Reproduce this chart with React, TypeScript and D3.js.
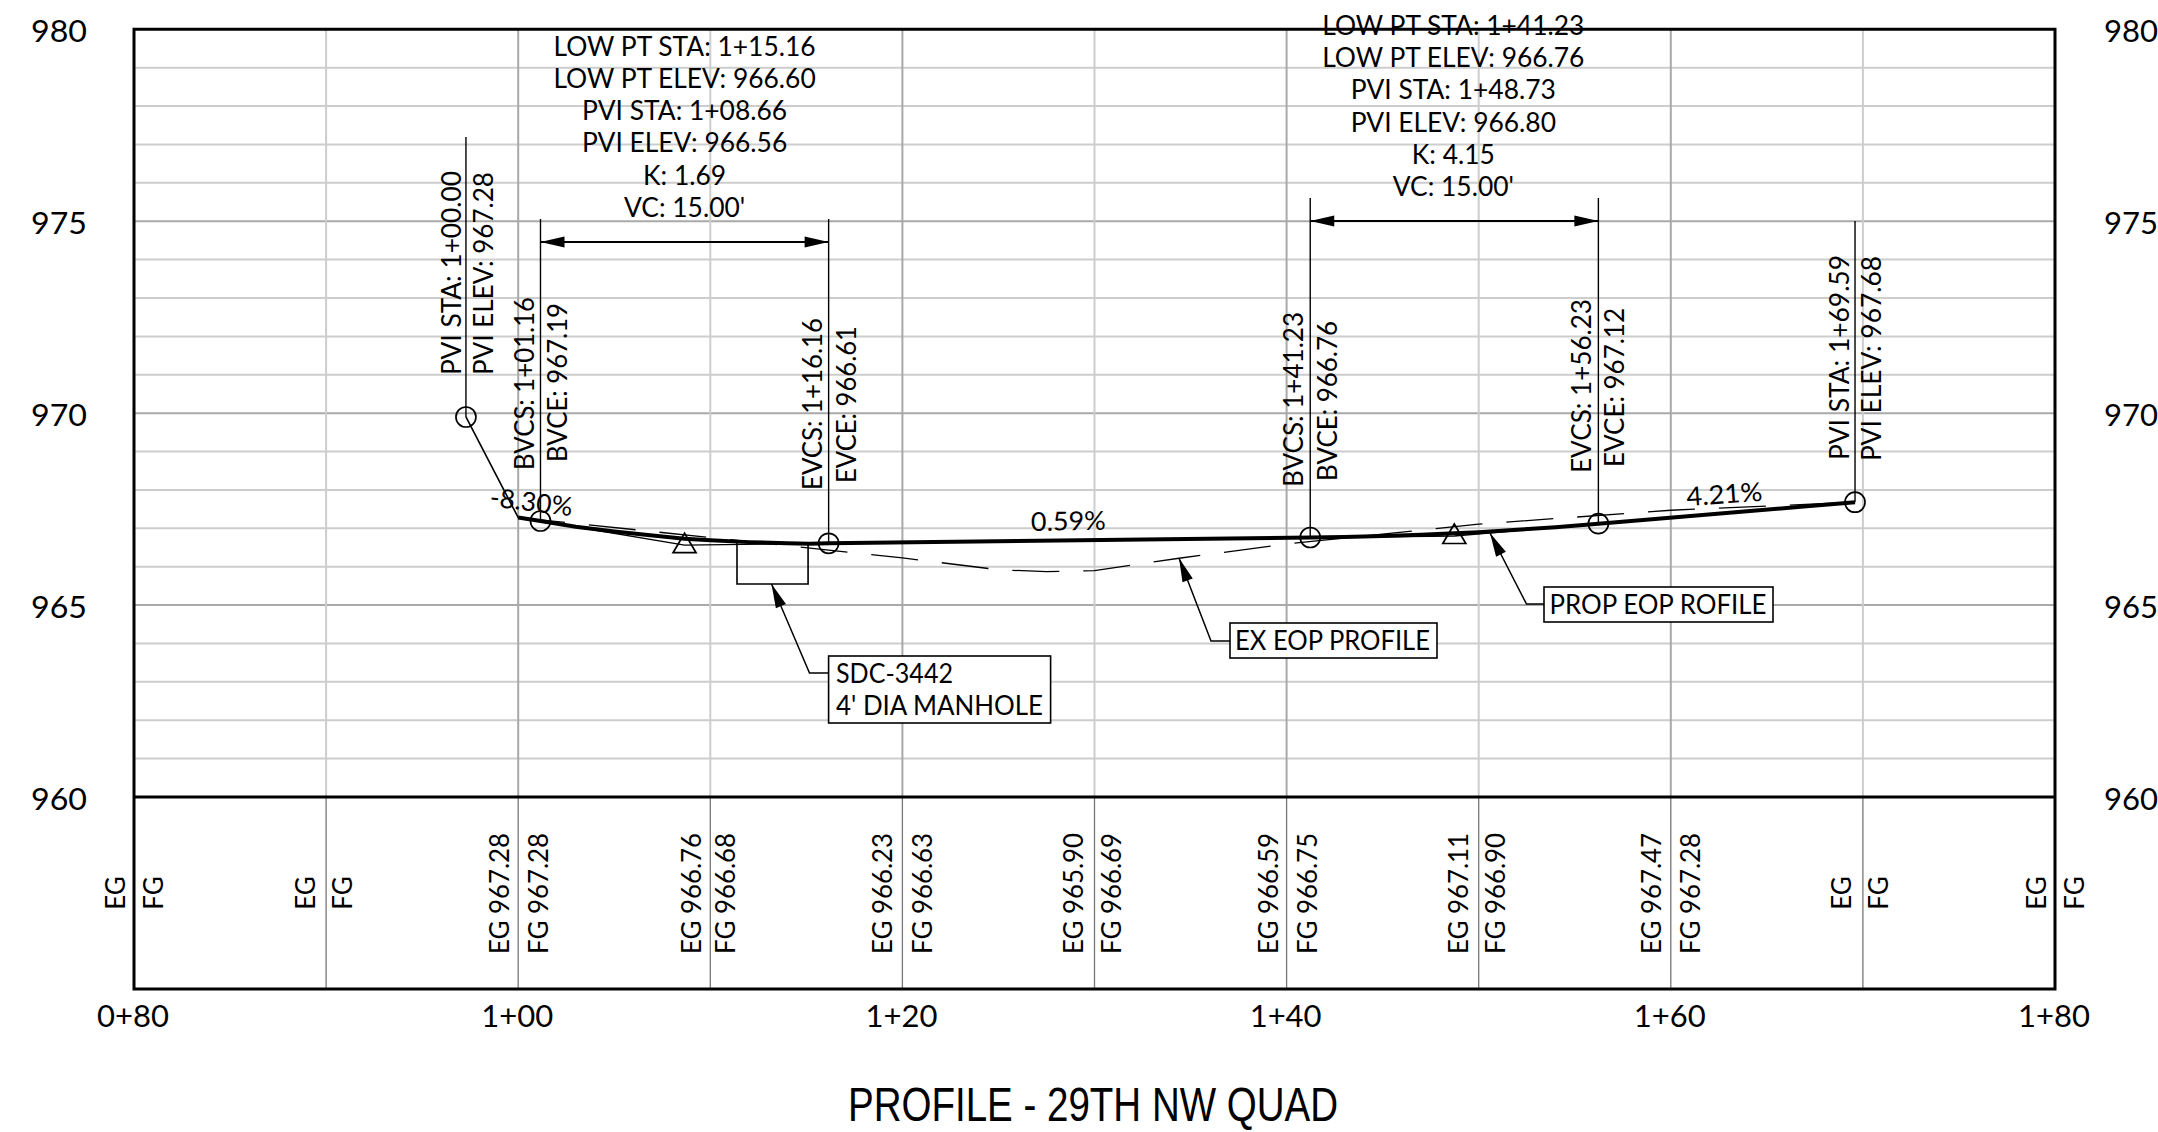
import React from "react";
import * as d3 from "d3";

const stationTicks = [80, 100, 120, 140, 160, 180];
const stationLabels = ["0+80", "1+00", "1+20", "1+40", "1+60", "1+80"];
const elevTicks = [960, 965, 970, 975, 980];
const bandStations = [80, 90, 100, 110, 120, 130, 140, 150, 160, 170, 180];
const egValues = ["", "", "967.28", "966.76", "966.23", "965.90", "966.59", "967.11", "967.47", "", ""];
const fgValues = ["", "", "967.28", "966.68", "966.63", "966.69", "966.75", "966.90", "967.28", "", ""];
const tailStations = [97.28, 100, 101.16];
const tailElevs = [969.9, 967.28, 967.19];
const propStations = [100, 101.16, 103, 105, 107, 108.66, 110, 112, 114, 115.16, 116.16, 141.23, 143, 145, 147, 148.73, 150, 152, 154, 156.23, 169.59];
const propElevs = [967.28, 967.19, 967.04, 966.915, 966.81, 966.727, 966.69, 966.64, 966.61, 966.60, 966.61, 966.76, 966.775, 966.80, 966.83, 966.87, 966.90, 966.96, 967.03, 967.12, 967.68];
const tangent1Stations = [101.16, 108.66, 116.16];
const tangent1Elevs = [967.19, 966.56, 966.61];
const tangent2Stations = [141.23, 148.73, 156.23];
const tangent2Elevs = [966.76, 966.80, 967.12];
const exStations = [100, 110, 120, 125, 127.5, 130, 134.4, 140, 150, 160, 169.59];
const exElevs = [967.28, 966.76, 966.23, 965.92, 965.87, 965.90, 966.22, 966.59, 967.11, 967.47, 967.68];
const curve1Lines = ["LOW PT STA: 1+15.16", "LOW PT ELEV: 966.60", "PVI STA: 1+08.66", "PVI ELEV: 966.56", "K: 1.69", "VC: 15.00'"];
const curve2Lines = ["LOW PT STA: 1+41.23", "LOW PT ELEV: 966.76", "PVI STA: 1+48.73", "PVI ELEV: 966.80", "K: 4.15", "VC: 15.00'"];
const pviStationsCircles = [97.28, 101.16, 116.16, 141.23, 156.23, 169.59];
const pviElevCircles = [969.9, 967.19, 966.61, 966.76, 967.12, 967.68];
const triStations = [108.66, 148.73];
const triElevs = [966.56, 966.80];

const x = d3.scaleLinear().domain([80, 180]).range([134, 2055]);
const y = d3.scaleLinear().domain([960, 980]).range([797, 29.3]);
const FONT = "Lato, Carlito, sans-serif";
const ink = "#000";

function path(xs: number[], ys: number[]) {
  return d3.line<number>().x((d) => x(xs[d])).y((d) => y(ys[d]))(xs.map((_, i) => i)) as string;
}

function T(p: { x: number; y: number; s: string; len?: number; anchor?: string; size?: number; rot?: number; font?: string }) {
  const { x: px, y: py, s, len, anchor = "start", size = 26, rot = 0, font = FONT } = p;
  return (
    <text
      transform={`translate(${px},${py}) rotate(${rot})`}
      textAnchor={anchor}
      fontFamily={font}
      fontSize={size}
      fill={ink}
      {...(len ? { textLength: len, lengthAdjust: "spacingAndGlyphs" } : {})}
    >
      {s}
    </text>
  );
}

function Arrow({ x0, y0, x1, y1, len = 24, w = 5.5 }: { x0: number; y0: number; x1: number; y1: number; len?: number; w?: number }) {
  const a = Math.atan2(y1 - y0, x1 - x0);
  const bx = x1 - len * Math.cos(a), by = y1 - len * Math.sin(a);
  const nx = -Math.sin(a) * w, ny = Math.cos(a) * w;
  return <path d={`M${x1},${y1}L${bx + nx},${by + ny}L${bx - nx},${by - ny}Z`} fill={ink} />;
}

function V({ st, lab1, lab2, b1, b2, l1, l2, off1 = -5, off2 = 27 }: any) {
  return (
    <g>
      <T x={x(st) + off1} y={b1} s={lab1} rot={-90} len={l1} />
      <T x={x(st) + off2} y={b2} s={lab2} rot={-90} len={l2} />
    </g>
  );
}

export default function App() {
  const bottom = 989;
  const hLines = d3.range(961, 980);
  const vLines = d3.range(90, 180, 10);
  const egOffsets: Record<number, number> = { 80: -9, 90: -11, 100: -9, 110: -9, 120: -10, 130: -12, 140: -9, 150: -11, 160: -10, 170: -12, 180: -9 };
  const fgOffsets: Record<number, number> = { 80: 29, 90: 26, 100: 30, 110: 25, 120: 30, 130: 26, 140: 30, 150: 26, 160: 29, 170: 25, 180: 29 };
  return (
    <svg width={2158} height={1132} style={{ position: "absolute", left: 0, top: 0, background: "#fff" }}>
      {hLines.map((e) => (
        <line key={e} x1={x(80)} x2={x(180)} y1={y(e)} y2={y(e)} stroke={e % 5 === 0 ? "#a9a9a9" : "#cdcdcd"} strokeWidth={2} />
      ))}
      {vLines.map((s) => (
        <line key={s} x1={x(s)} x2={x(s)} y1={y(980)} y2={y(960)} stroke={s % 20 === 0 ? "#a9a9a9" : "#cdcdcd"} strokeWidth={2} />
      ))}
      {vLines.map((s) => (
        <line key={"b" + s} x1={x(s)} x2={x(s)} y1={y(960)} y2={bottom} stroke="#777" strokeWidth={1.3} />
      ))}

      {/* frame */}
      <path d={`M${x(80)},${y(980)}H${x(180)}V${bottom}H${x(80)}Z`} fill="none" stroke={ink} strokeWidth={3} />
      <line x1={x(80)} x2={x(180)} y1={y(960)} y2={y(960)} stroke={ink} strokeWidth={3} />

      {/* axes */}
      {elevTicks.map((e) => (
        <g key={e}>
          <T x={31} y={y(e) + 12.5} s={String(e)} size={31} len={56} />
          <T x={2104} y={y(e) + 12.5} s={String(e)} size={31} len={54} />
        </g>
      ))}
      {stationTicks.map((s, i) => (
        <T key={s} x={x(s) - 1} y={1027} s={stationLabels[i]} anchor="middle" size={31} />
      ))}

      {/* band */}
      {bandStations.map((s, i) => {
        const eg = egValues[i];
        const fg = fgValues[i];
        if (!eg) {
          return (
            <g key={s}>
              <T x={x(s) + egOffsets[s]} y={893} s="EG" rot={-90} anchor="middle" />
              <T x={x(s) + fgOffsets[s]} y={893} s="FG" rot={-90} anchor="middle" />
            </g>
          );
        }
        return (
          <g key={s}>
            <T x={x(s) + egOffsets[s]} y={954} s={`EG ${eg}`} rot={-90} len={121} />
            <T x={x(s) + fgOffsets[s]} y={954} s={`FG ${fg}`} rot={-90} len={121} />
          </g>
        );
      })}

      {/* leaders */}
      <line x1={x(97.28)} x2={x(97.28)} y1={137} y2={y(969.9)} stroke={ink} strokeWidth={1.4} />
      <line x1={x(101.16)} x2={x(101.16)} y1={219} y2={y(967.19)} stroke={ink} strokeWidth={1.4} />
      <line x1={x(116.16)} x2={x(116.16)} y1={219} y2={y(966.61)} stroke={ink} strokeWidth={1.4} />
      <line x1={x(141.23)} x2={x(141.23)} y1={198} y2={y(966.76)} stroke={ink} strokeWidth={1.4} />
      <line x1={x(156.23)} x2={x(156.23)} y1={198} y2={y(967.12)} stroke={ink} strokeWidth={1.4} />
      <line x1={x(169.59)} x2={x(169.59)} y1={221} y2={y(967.68)} stroke={ink} strokeWidth={1.4} />

      {/* dimension arrows */}
      <line x1={x(101.16)} x2={x(116.16)} y1={242} y2={242} stroke={ink} strokeWidth={1.8} />
      <Arrow x0={x(116.16)} y0={242} x1={x(101.16)} y1={242} />
      <Arrow x0={x(101.16)} y0={242} x1={x(116.16)} y1={242} />
      <line x1={x(141.23)} x2={x(156.23)} y1={221} y2={221} stroke={ink} strokeWidth={1.8} />
      <Arrow x0={x(156.23)} y0={221} x1={x(141.23)} y1={221} />
      <Arrow x0={x(141.23)} y0={221} x1={x(156.23)} y1={221} />

      {/* top notes */}
      {curve1Lines.map((s, i) => (
        <T key={i} x={x(108.66)} y={55.7 + i * 32.2} s={s} anchor="middle" size={26.4} />
      ))}
      {curve2Lines.map((s, i) => (
        <T key={i} x={x(148.73) - 1} y={35 + i * 32.2} s={s} anchor="middle" size={26.4} />
      ))}

      {/* rotated station labels */}
      <V st={97.28} lab1="PVI STA: 1+00.00" lab2="PVI ELEV: 967.28" b1={375} b2={375} l1={204} l2={203} off1={-5} />
      <V st={101.16} lab1="BVCS: 1+01.16" lab2="BVCE: 967.19" b1={470} b2={462} l1={173} l2={159} off1={-6} />
      <V st={116.16} lab1="EVCS: 1+16.16" lab2="EVCE: 966.61" b1={490} b2={483} l1={172} l2={157} off1={-7} />
      <V st={141.23} lab1="BVCS: 1+41.23" lab2="BVCE: 966.76" b1={487} b2={481} l1={175} l2={160} off1={-7} />
      <V st={156.23} lab1="EVCS: 1+56.23" lab2="EVCE: 967.12" b1={473} b2={467} l1={174} l2={159} off1={-7} off2={26} />
      <V st={169.59} lab1="PVI STA: 1+69.59" lab2="PVI ELEV: 967.68" b1={460} b2={461} l1={205} l2={205} off1={-6} off2={26} />

      {/* profile */}
      <path d={path(exStations, exElevs)} fill="none" stroke={ink} strokeWidth={1.3} strokeDasharray="47 24" />
      <path d={path(tangent1Stations, tangent1Elevs)} fill="none" stroke={ink} strokeWidth={1.3} />
      <path d={path(tangent2Stations, tangent2Elevs)} fill="none" stroke={ink} strokeWidth={1.3} />
      <path d={path(tailStations, tailElevs)} fill="none" stroke={ink} strokeWidth={1.6} />
      <path d={path(propStations, propElevs)} fill="none" stroke={ink} strokeWidth={4} />

      {pviStationsCircles.map((s, i) => (
        <circle key={s} cx={x(s)} cy={y(pviElevCircles[i])} r={10} fill="none" stroke={ink} strokeWidth={1.7} />
      ))}
      {triStations.map((s, i) => {
        const cx = x(s), cy = y(triElevs[i]);
        return <path key={s} d={`M${cx},${cy - 12}L${cx + 11.5},${cy + 7.5}L${cx - 11.5},${cy + 7.5}Z`} fill="none" stroke={ink} strokeWidth={1.7} />;
      })}

      {/* manhole */}
      <path d={`M${x(111.39)},${y(966.66)}V${y(965.55)}H${x(115.09)}V${y(966.6)}`} fill="none" stroke={ink} strokeWidth={1.6} />
      <path d="M771.5,584L809.5,673H828.6" fill="none" stroke={ink} strokeWidth={1.5} />
      <Arrow x0={809.5} y0={673} x1={771.5} y1={584} />
      <rect x={828.6} y={656} width={222} height={67} fill="#fff" stroke={ink} strokeWidth={1.6} />
      <T x={836} y={683} s="SDC-3442" len={117} />
      <T x={836} y={715} s="4' DIA MANHOLE" len={207} />

      {/* callouts */}
      <path d="M1179,558L1211,641H1230" fill="none" stroke={ink} strokeWidth={1.5} />
      <Arrow x0={1211} y0={641} x1={1179} y1={558} />
      <rect x={1230} y={623} width={207} height={35} fill="#fff" stroke={ink} strokeWidth={1.6} />
      <T x={1235} y={650} s="EX EOP PROFILE" len={195} />

      <path d="M1490,533L1526.5,604H1544" fill="none" stroke={ink} strokeWidth={1.5} />
      <Arrow x0={1526.5} y0={604} x1={1490} y1={533} />
      <rect x={1544} y={587} width={229} height={35} fill="#fff" stroke={ink} strokeWidth={1.6} />
      <T x={1549.5} y={614} s="PROP EOP ROFILE" len={217} />

      {/* grades */}
      <T x={489} y={506} s="-8.30%" rot={7} len={83} />
      <T x={1031} y={531} s="0.59%" rot={-1} len={75} />
      <T x={1687} y={506} s="4.21%" rot={-4} len={76} />

      {/* title */}
      <T x={848} y={1121} s="PROFILE - 29TH NW QUAD" size={48} len={490} font="'Liberation Sans Narrow', 'Liberation Sans', sans-serif" />
    </svg>
  );
}
